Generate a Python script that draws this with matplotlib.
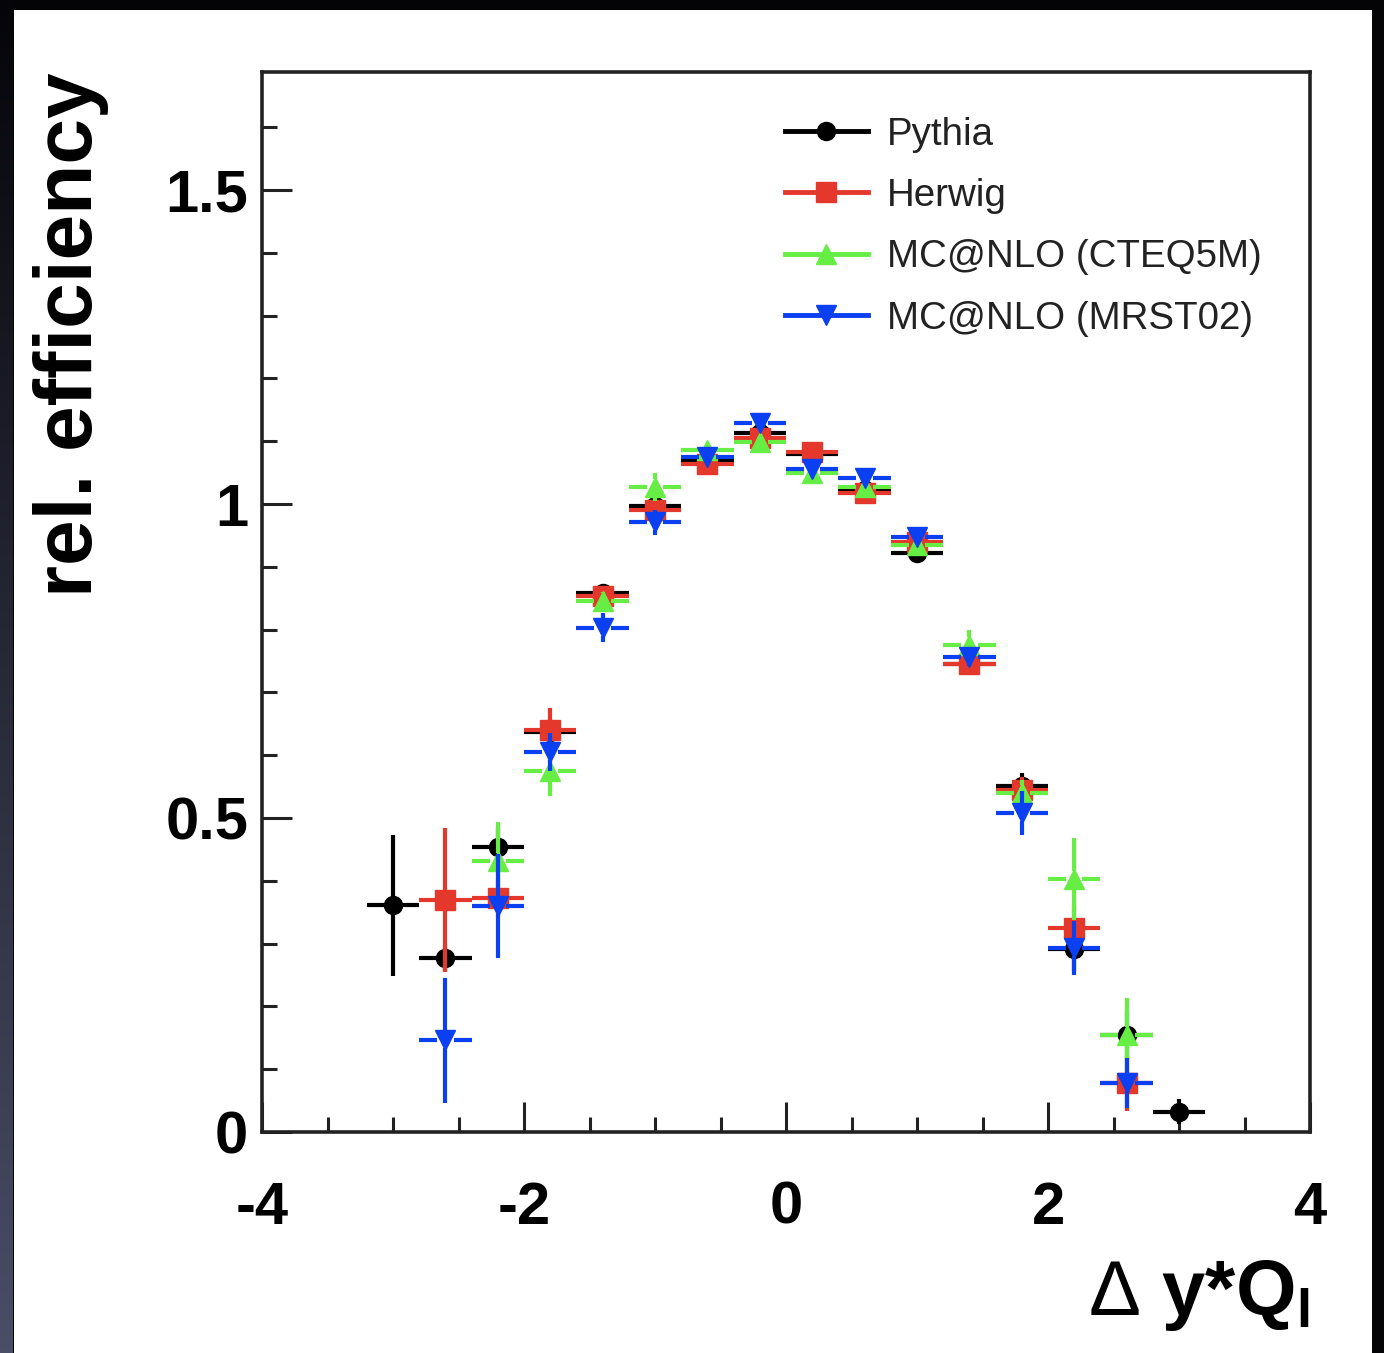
import numpy as np
import matplotlib
matplotlib.use('Agg')
from matplotlib import pyplot as plt
from matplotlib.lines import Line2D
from matplotlib.patches import Rectangle
from matplotlib.ticker import MultipleLocator

plt.rcParams['font.family'] = ['Liberation Sans', 'DejaVu Sans']
plt.rcParams['mathtext.fontset'] = 'custom'
plt.rcParams['mathtext.rm'] = 'Liberation Sans:bold'
plt.rcParams['mathtext.sf'] = 'Liberation Sans'

# %% donnees (centres des bins, demi-largeur 0.2)
bin_half = 0.2

x_pythia = [-3.0, -2.6, -2.2, -1.8, -1.4, -1.0, -0.6, -0.2, 0.2, 0.6, 1.0, 1.4, 1.8, 2.2, 2.6, 3.0]
y_pythia = [0.361, 0.277, 0.454, 0.637, 0.858, 0.997, 1.068, 1.113, 1.080, 1.022, 0.922, 0.745, 0.551, 0.292, 0.154, 0.032]
e_pythia = [0.112, 0.020, 0.030, 0.020, 0.015, 0.012, 0.010, 0.010, 0.010, 0.010, 0.012, 0.015, 0.020, 0.035, 0.040, 0.020]

x_herwig = [-2.6, -2.2, -1.8, -1.4, -1.0, -0.6, -0.2, 0.2, 0.6, 1.0, 1.4, 1.8, 2.2, 2.6]
y_herwig = [0.369, 0.373, 0.640, 0.853, 0.990, 1.063, 1.105, 1.083, 1.017, 0.940, 0.745, 0.545, 0.325, 0.078]
e_herwig = [0.115, 0.030, 0.035, 0.015, 0.015, 0.012, 0.012, 0.012, 0.012, 0.012, 0.015, 0.020, 0.035, 0.045]

x_cteq = [-2.2, -1.8, -1.4, -1.0, -0.6, -0.2, 0.2, 0.6, 1.0, 1.4, 1.8, 2.2, 2.6]
y_cteq = [0.432, 0.575, 0.845, 1.027, 1.086, 1.099, 1.050, 1.027, 0.935, 0.775, 0.540, 0.403, 0.154]
e_cteq = [0.062, 0.040, 0.015, 0.022, 0.012, 0.012, 0.012, 0.012, 0.012, 0.024, 0.020, 0.065, 0.060]

x_mrst = [-2.6, -2.2, -1.8, -1.4, -1.0, -0.6, -0.2, 0.2, 0.6, 1.0, 1.4, 1.8, 2.2, 2.6]
y_mrst = [0.146, 0.360, 0.605, 0.803, 0.971, 1.075, 1.129, 1.056, 1.041, 0.947, 0.757, 0.508, 0.293, 0.078]
e_mrst = [0.100, 0.083, 0.030, 0.023, 0.020, 0.012, 0.012, 0.012, 0.012, 0.012, 0.015, 0.035, 0.043, 0.040]

series = [
    ("Pythia", x_pythia, y_pythia, e_pythia, 'black', 'o', 13),
    ("Herwig", x_herwig, y_herwig, e_herwig, '#e4382c', 's', 14),
    ("MC@NLO (CTEQ5M)", x_cteq, y_cteq, e_cteq, '#66ee44', '^', 14),
    ("MC@NLO (MRST02)", x_mrst, y_mrst, e_mrst, '#0b3ff2', 'v', 14),
]


def drawPoints(ax, x, y, e, color, marker, ms, gx=0.062, gy=0.013, lw=3.0):
    """
    error bars a la ROOT : barres coupees autour du marqueur
    """
    x = np.asarray(x)
    y = np.asarray(y)
    e = np.asarray(e)
    ax.hlines(y, x - bin_half, x - gx, color=color, lw=lw)
    ax.hlines(y, x + gx, x + bin_half, color=color, lw=lw)
    big = e > gy
    ax.vlines(x[big], y[big] + gy, y[big] + e[big], color=color, lw=lw)
    ax.vlines(x[big], y[big] - e[big], y[big] - gy, color=color, lw=lw)
    ax.plot(x, y, ls='none', marker=marker, ms=ms, color=color, mec=color)


# %%
fig = plt.figure(figsize=(13.84, 13.53), dpi=100)
fig.patch.set_facecolor('#040406')

# fond blanc + bande gauche degradee
fig.patches.append(Rectangle((14 / 1384, 0), (1372 - 14) / 1384, (1353 - 10) / 1353,
                             transform=fig.transFigure, facecolor='white', edgecolor='none', zorder=-10))
strip = fig.add_axes([0, 0, 13 / 1384, 1])
strip.set_zorder(-5)
grad = np.linspace(0, 1, 256).reshape(-1, 1)
strip.imshow(grad, aspect='auto', cmap=matplotlib.colors.LinearSegmentedColormap.from_list(
    'bg', ['#4a4e66', '#050509']), origin='lower', extent=[0, 1, 0, 1])
strip.set_axis_off()

ax = fig.add_axes([262 / 1384, (1353 - 1132) / 1353, (1310 - 262) / 1384, (1132 - 72) / 1353])
ax.set_facecolor('white')

for label, x, y, e, c, m, ms in series:
    drawPoints(ax, x, y, e, c, m, ms)

ax.set_xlim(-4, 4)
ax.set_ylim(0, 1.688)
ax.xaxis.set_major_locator(MultipleLocator(2))
ax.xaxis.set_minor_locator(MultipleLocator(0.5))
ax.yaxis.set_major_locator(MultipleLocator(0.5))
ax.yaxis.set_minor_locator(MultipleLocator(0.1))
ax.set_xticks([-4, -2, 0, 2, 4])
ax.set_xticklabels(['-4', '-2', '0', '2', '4'])
ax.set_yticks([0, 0.5, 1, 1.5])
ax.set_yticklabels(['0', '0.5', '1', '1.5'])
ax.tick_params(which='both', direction='in', width=2.2, color='#222222')
ax.tick_params(which='major', length=21.5)
ax.tick_params(which='minor', length=11)
ax.tick_params(axis='x', which='major', labelsize=43, pad=35)
ax.tick_params(axis='y', which='major', labelsize=43, pad=10)
for lab in ax.get_xticklabels() + ax.get_yticklabels():
    lab.set_fontweight('bold')
for sp in ax.spines.values():
    sp.set_linewidth(2.6)
    sp.set_color('#222222')

ax.set_ylabel('rel. efficiency', fontsize=59, fontweight='bold', loc='top')
ax.yaxis.set_label_coords(-0.146, 1.0)
ax.set_xlabel('$\\mathsf{Δ}$ y*Q$_\\mathrm{l}$', fontsize=56, fontweight='bold', loc='right')
ax.xaxis.set_label_coords(1.0, -0.119)

handles = [Line2D([], [], color=c, marker=m, ms=ms, lw=3.5) for _, _, _, _, c, m, ms in series]
labels = [s[0] for s in series]
leg = ax.legend(handles, labels, loc='upper left', bbox_to_anchor=(0.499, 0.958), frameon=False,
                fontsize=27.7, handlelength=2.15, handletextpad=0.5, labelspacing=0.66,
                borderpad=0, borderaxespad=0)
for t in leg.get_texts():
    t.set_color('#222222')

plt.savefig('out.png', dpi=100, facecolor=fig.get_facecolor())
